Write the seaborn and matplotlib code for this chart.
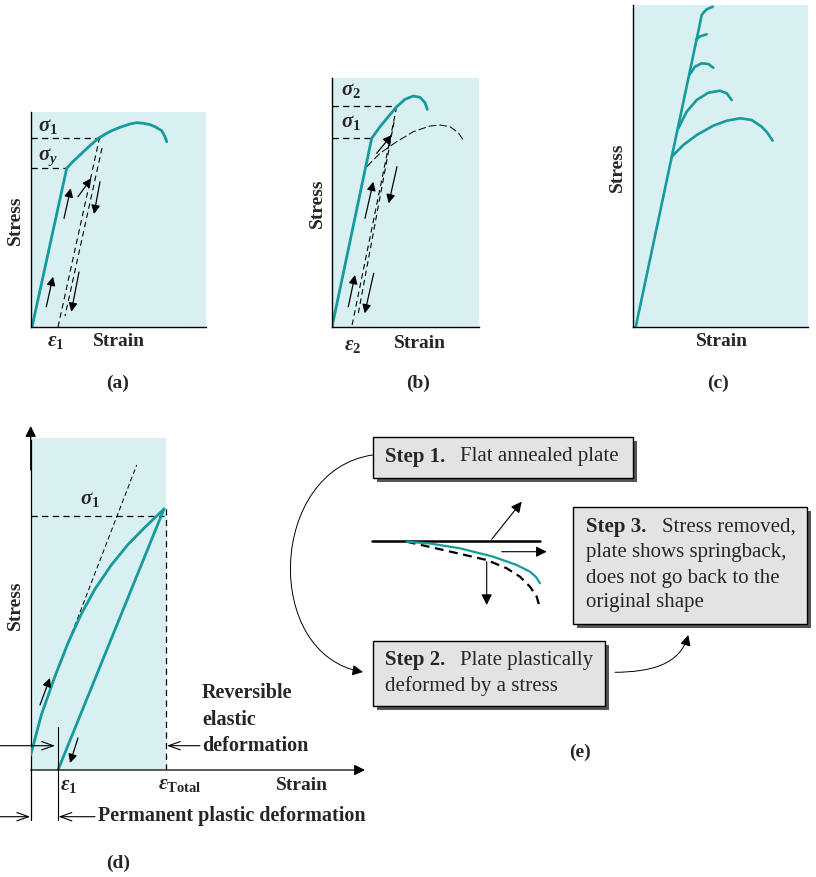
import numpy as np
import pandas as pd
import matplotlib
matplotlib.use('Agg')
import matplotlib.pyplot as plt
import seaborn as sns
from matplotlib.patches import FancyArrowPatch, Rectangle
from matplotlib.path import Path

sns.set_style('white')
plt.rcParams['font.family'] = ['Liberation Serif', 'DejaVu Serif']
plt.rcParams['mathtext.fontset'] = 'custom'
plt.rcParams['mathtext.rm'] = 'Liberation Serif:bold'
plt.rcParams['mathtext.it'] = 'Liberation Serif:italic:bold'
plt.rcParams['mathtext.bf'] = 'Liberation Serif:bold'

# ---------------- data (schematic stress / strain values) ----------------
# panel (a)
a_strain = [1, 35.7, 42, 49, 58, 67.3, 75.7, 82.3, 89, 99, 105.5, 112.3, 118.5, 124, 130.7, 134, 135.7]
a_stress = [0, 158.7, 165.5, 172, 180.5, 188.7, 193.7, 197, 199.7, 203, 204.3, 203.7, 202.5, 200.3, 196.3, 190.3, 185.3]
a_sig1, a_sigy = 189.5, 158.7
a_unload1_x, a_unload1_y = [68.7, 27], [190, 0]
a_unload2_x, a_unload2_y = [71, 34], [179, 11]
a_arrows = [((15.3, 20.3), (22, 50.3)), ((33, 108.7), (39.7, 138.7)),
            ((47, 130.3), (60.3, 148.7)), ((69, 145.3), (63, 113)),
            ((48, 55), (40.3, 15.3))]

# panel (b)
b_strain = [0, 39.7, 48, 56.3, 64.7, 73, 81.3, 88, 93, 95.3]
b_stress = [0, 188.7, 200.3, 210.3, 220.3, 227.7, 231, 229.7, 224.3, 217.7]
b_old_strain = [34.7, 48, 64.7, 81.3, 98, 108, 118, 126.3, 130.7]
b_old_stress = [160.3, 173.7, 185.3, 195.3, 201, 202, 200.3, 194.3, 187.7]
b_sig2, b_sig1 = 221, 188.7
b_unload1_x, b_unload1_y = [64.7, 19.7], [220.3, 0]
b_unload2_x, b_unload2_y = [62, 26], [205, 12]
b_arrows = [((16.3, 20.3), (23, 52)), ((33, 108.7), (41.3, 145.3)),
            ((44.7, 173.7), (59.7, 192)), ((65, 160.3), (56.7, 123.7)),
            ((41.7, 53.7), (32.7, 13.7))]

# panel (c)
c_main_x = [2.7, 66.3, 68.7, 71, 73.7, 79.7]
c_main_y = [0, 300.3, 312, 315, 317.7, 320.3]
c_branches = [
    ([63, 66.3, 73.7], [287, 290.3, 292.7]),
    ([56.3, 62, 68.7, 75.3, 80.3], [252, 260.3, 263.7, 263, 259.3]),
    ([45.3, 53.7, 63.7, 75.3, 87, 93.7, 98.7], [198.7, 215.3, 227, 234.3, 236.3, 233.7, 227]),
    ([38.7, 50.3, 63.7, 80.3, 93.7, 107, 118.7, 128.7, 134.3, 139.7],
     [170.3, 182, 192, 201.3, 206.3, 208.7, 207, 200.3, 194.3, 186.3]),
]

# panel (d)
d_load_x = [0, 10.6, 24, 37.3, 50.6, 64, 80.6, 97.3, 114, 133.3]
d_load_y = [15, 55, 93, 127, 156, 180.5, 205, 225.5, 242.5, 261]
d_unload_x, d_unload_y = [133.3, 27.3], [261, 0]
d_tan_x, d_tan_y = [27, 106], [100, 305]
d_sig1, d_eps1, d_epstot = 254.3, 27.3, 135.6

# panel (e) plate shapes
e_flat_x, e_flat_y = [371.7, 540], [540.7, 540.7]
e_spring_x = [406.7, 430, 460, 493.3, 516.7, 530, 536, 540]
e_spring_y = [541.7, 543.5, 548.3, 556.7, 565, 571.7, 577, 583.3]
e_loaded_x = [406.7, 443.3, 486.7, 506.7, 520, 530, 536.7, 540]
e_loaded_y = [541.7, 550, 560, 568.3, 576.7, 586.7, 596.7, 608.3]

# ---------------- figure ----------------
W, H = 816, 877
TEAL = '#169a9c'
BG = '#d9f0f3'
fig = plt.figure(figsize=(W / 100, H / 100), dpi=100)
fig.patch.set_facecolor('white')


def panel(x0, y0, w, h):
    ax = fig.add_axes([x0 / W, (H - y0) / H, w / W, h / H])
    ax.set_xlim(0, w)
    ax.set_ylim(0, h)
    ax.set_facecolor(BG)
    for s in ['top', 'right']:
        ax.spines[s].set_visible(False)
    for s in ['left', 'bottom']:
        ax.spines[s].set_color('black')
        ax.spines[s].set_linewidth(1.0)
    ax.set_xticks([])
    ax.set_yticks([])
    return ax


def arr(ax, p0, p1, ms=13, lw=0.9, style='-|>', color='k'):
    ax.annotate('', xy=p1, xytext=p0, annotation_clip=False,
                arrowprops=dict(arrowstyle=style, color=color, lw=lw,
                                mutation_scale=ms, shrinkA=0, shrinkB=0))


def teal(ax, x, y, lw=1.9):
    sns.lineplot(x=x, y=y, sort=False, estimator=None, color=TEAL, lw=lw, ax=ax,
                 solid_capstyle='round', solid_joinstyle='round')
    ax.set_xlabel('')
    ax.set_ylabel('')


DASH = dict(color='k', lw=0.9, dashes=(5, 3.5))
THIN = dict(color='k', lw=0.8, dashes=(5, 3.5))

# ---- (a)
axa = panel(31, 327, 175, 215)
ax = axa
ax.plot([0, a_unload1_x[0]], [a_sig1, a_sig1], **DASH)
ax.plot([0, a_strain[1]], [a_sigy, a_sigy], **DASH)
ax.plot(a_unload1_x, a_unload1_y, **THIN)
ax.plot(a_unload2_x, a_unload2_y, **THIN)
teal(ax, a_strain, a_stress, lw=2.0)
for p0, p1 in a_arrows:
    arr(ax, p0, p1)

# ---- (b)
axb = panel(332, 327, 147, 249)
ax = axb
ax.plot([0, b_strain[4]], [b_sig2, b_sig2], **DASH)
ax.plot([0, b_strain[1]], [b_sig1, b_sig1], **DASH)
ax.plot(b_unload1_x, b_unload1_y, **THIN)
ax.plot(b_unload2_x, b_unload2_y, **THIN)
ax.plot(b_old_strain, b_old_stress, color='k', lw=0.7, dashes=(8, 3))
teal(ax, b_strain, b_stress, lw=2.0)
for p0, p1 in b_arrows:
    arr(ax, p0, p1)

# ---- (c)
axc = panel(633, 327, 175, 322)
ax = axc
teal(ax, c_main_x, c_main_y, lw=1.9)
for bx, by in c_branches:
    teal(ax, bx, by, lw=1.9)

# ---- (d)
axd = fig.add_axes([30.7 / W, (H - 770) / H, 334.3 / W, 344 / H])
ax = axd
ax.set_xlim(0, 334.3)
ax.set_ylim(0, 344)
ax.axis('off')
ax.add_patch(Rectangle((0, 0), d_epstot, 332, facecolor=BG, edgecolor='none', zorder=0))
ax.plot([0, 0], [-50, 330], color='k', lw=0.9, clip_on=False)
arr(ax, (0, 300), (0, 344), ms=16, lw=0.9)
arr(ax, (0, 0), (334.3, 0), ms=16, lw=0.9)
ax.plot([0, d_load_x[-1]], [d_sig1, d_sig1], **DASH)
ax.plot([d_epstot, d_epstot], [0, 262], **DASH)
ax.plot(d_tan_x, d_tan_y, color='k', lw=0.7, dashes=(5, 3))
teal(ax, d_load_x, d_load_y, lw=2.0)
teal(ax, d_unload_x, d_unload_y, lw=2.0)
arr(ax, (9.3, 65), (19.3, 92))
arr(ax, (47.3, 32), (39.3, 7))
ax.plot([d_eps1, d_eps1], [43.3, -50], color='k', lw=0.8, clip_on=False)
OPEN = '->,head_length=0.7,head_width=0.25'
arr(ax, (-30.7, 24.3), (24.3, 24.3), style=OPEN, lw=0.8, ms=12)
arr(ax, (169.3, 24.3), (136.3, 24.3), style=OPEN, lw=0.8, ms=12)
arr(ax, (-30.7, -46.7), (-0.5, -46.7), style=OPEN, lw=0.8, ms=12)
arr(ax, (64.3, -46.7), (27.8, -46.7), style=OPEN, lw=0.8, ms=12)

# ---------------- overlay (text and panel e) ----------------
ov = fig.add_axes([0, 0, 1, 1])
ov.set_xlim(0, W)
ov.set_ylim(H, 0)
ov.axis('off')
ov.patch.set_alpha(0)


def t(x, y, s, size=14, weight='bold', ha='center', va='center', rot=0):
    ov.text(x, y, s, fontsize=size, fontweight=weight, ha=ha, va=va, rotation=rot,
            family='Liberation Serif')


# (a)
t(15, 220, 'Stress', rot=90)
t(119, 342, 'Strain')
t(118, 383, '(a)')
t(38, 126, r'$\sigma_1$', size=15, ha='left')
t(38, 157, r'$\sigma_y$', size=15, ha='left')
t(56, 341, r'$\varepsilon_1$', size=15)
# (b)
t(317, 203, 'Stress', rot=90)
t(420, 343, 'Strain')
t(418, 383, '(b)')
t(341, 90, r'$\sigma_2$', size=15, ha='left')
t(341, 122, r'$\sigma_1$', size=15, ha='left')
t(353, 345, r'$\varepsilon_2$', size=15)
# (c)
t(617, 167, 'Stress', rot=90)
t(722, 342, 'Strain')
t(718, 383, '(c)')
# (d)
t(15, 605, 'Stress', rot=90)
t(302, 785, 'Strain')
t(118, 863, '(d)')
t(90, 499, r'$\sigma_1$', size=15)
t(69, 785, r'$\varepsilon_1$', size=15)
t(158, 784, r'$\varepsilon_{\mathrm{Total}}$', size=15, ha='left')
t(202, 693, 'Reversible', size=14.5, ha='left')
t(202, 720, 'elastic', size=14.5, ha='left')
t(202, 746, 'deformation', size=14.5, ha='left')
t(98, 816, 'Permanent plastic deformation', size=14.5, ha='left')
# (e)
t(580, 752, '(e)')

BOX = '#e3e3e3'
SHADOW = '#555555'
for (x0, y0, x1, y1) in [(372.7, 437.3, 633.3, 477.7), (573.3, 506.7, 806.7, 624.3),
                         (372.7, 640.7, 605, 706)]:
    ov.add_patch(Rectangle((x0 + 4, y0 + 4), x1 - x0, y1 - y0, facecolor=SHADOW,
                           edgecolor='none', zorder=1))
    ov.add_patch(Rectangle((x0, y0), x1 - x0, y1 - y0, facecolor=BOX,
                           edgecolor='k', lw=1.0, zorder=2))

SZ = 15
t(385, 457, 'Step 1.', size=SZ, ha='left')
t(460, 457, 'Flat annealed plate', size=SZ, weight='normal', ha='left')
t(586, 527, 'Step 3.', size=SZ, ha='left')
t(662, 527, 'Stress removed,', size=SZ, weight='normal', ha='left')
t(586, 552, 'plate shows springback,', size=SZ, weight='normal', ha='left')
t(586, 578, 'does not go back to the', size=SZ, weight='normal', ha='left')
t(586, 603, 'original shape', size=SZ, weight='normal', ha='left')
t(385, 660, 'Step 2.', size=SZ, ha='left')
t(460, 660, 'Plate plastically', size=SZ, weight='normal', ha='left')
t(385, 686, 'deformed by a stress', size=SZ, weight='normal', ha='left')

# curved process arrows
p1 = Path([(372.7, 455), (268, 470), (262, 655), (363, 672)],
          [Path.MOVETO, Path.CURVE4, Path.CURVE4, Path.CURVE4])
ov.add_patch(FancyArrowPatch(path=p1, arrowstyle='-|>', mutation_scale=16, color='k', lw=0.7))
p2 = Path([(615, 672.3), (650, 672), (680, 665), (688.3, 635)],
          [Path.MOVETO, Path.CURVE4, Path.CURVE4, Path.CURVE4])
ov.add_patch(FancyArrowPatch(path=p2, arrowstyle='-|>', mutation_scale=16, color='k', lw=0.7))

# plate
ov.plot(e_flat_x, e_flat_y, color='k', lw=1.8)
ov.plot(e_loaded_x, e_loaded_y, color='k', lw=1.6, dashes=(4, 2.5))
sns.lineplot(x=e_spring_x, y=e_spring_y, sort=False, estimator=None, color=TEAL, lw=1.6, ax=ov)
ov.set_xlabel('')
ov.set_ylabel('')
ov.set_xlim(0, W)
ov.set_ylim(H, 0)
arr(ov, (491.7, 539.3), (521.7, 501.7), ms=16, lw=0.8)
arr(ov, (501.7, 551.7), (546.7, 551.7), ms=16, lw=0.8)
arr(ov, (486.7, 561.7), (486.7, 605), ms=16, lw=0.8)

fig.savefig('out.png', dpi=100, facecolor='white')
